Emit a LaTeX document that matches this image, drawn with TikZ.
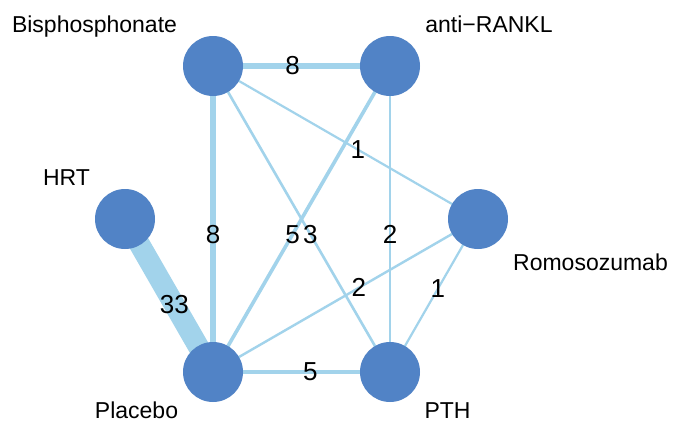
\documentclass[tikz,border=0pt]{standalone}
\usepackage{fontspec}
\setmainfont{Liberation Sans}
\definecolor{nodeblue}{RGB}{81,131,198}
\definecolor{edgeblue}{RGB}{162,211,235}
\begin{document}
\begin{tikzpicture}[x=1pt,y=-1pt,
  dot/.style={circle,fill=nodeblue,minimum size=60pt,inner sep=0pt},
  lbl/.style={font=\fontsize{23}{27}\selectfont,anchor=base,inner sep=0pt},
  num/.style={font=\fontsize{26}{30}\selectfont,inner sep=0pt},
  con/.style={draw=edgeblue,line width=#1},
]
\useasboundingbox (0,0) rectangle (686,423);
\fill[white] (0,0) rectangle (686,423);
\coordinate (B) at (213,66);
\coordinate (A) at (390,66);
\coordinate (H) at (125,219);
\coordinate (R) at (478,219);
\coordinate (P) at (213,372);
\coordinate (T) at (390,372);
% connectors
\draw[con=21pt] (H) -- node[num,pos=0.56] (l33) {33} (P);
\draw[con=6pt] (A) -- node[num,pos=0.55] (lba) {8} (B);
\draw[con=6pt] (B) -- node[num,pos=0.55] (lbp) {8} (P);
\draw[con=2.6pt] (B) -- node[num,pos=0.55] (lbt) {3} (T);
\draw[con=2.2pt] (B) -- node[num,pos=0.547] (lbr) {1} (R);
\draw[con=3.6pt] (A) -- node[num,pos=0.55] (lap) {5} (P);
\draw[con=2.4pt] (A) -- node[num,pos=0.55] (lat) {2} (T);
\draw[con=2.4pt] (P) -- node[num,pos=0.55] (lpr) {2} (R);
\draw[con=2.2pt] (T) -- node[num,pos=0.545] (ltr) {1} (R);
\draw[con=3.6pt] (P) -- node[num,pos=0.55] (lpt) {5} (T);
% treatment nodes
\node[dot] (nB) at (B) {};
\node[dot] (nA) at (A) {};
\node[dot] (nH) at (H) {};
\node[dot] (nR) at (R) {};
\node[dot] (nP) at (P) {};
\node[dot] (nT) at (T) {};
% labels
\node[lbl] (tB) at (94.5,32) {Bisphosphonate};
\node[lbl] (tA) at (489,32) {anti−RANKL};
\node[lbl] (tH) at (66.5,185) {HRT};
\node[lbl] (tR) at (590.5,270) {Romosozumab};
\node[lbl] (tP) at (136.5,418) {Placebo};
\node[lbl] (tT) at (447.5,418) {PTH};
\end{tikzpicture}
\end{document}
